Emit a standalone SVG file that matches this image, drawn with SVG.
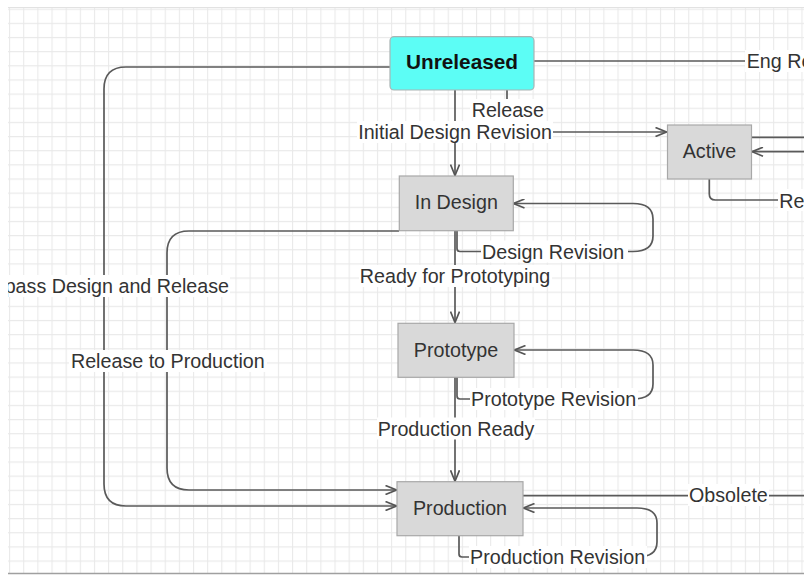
<svg xmlns="http://www.w3.org/2000/svg" width="804" height="576" viewBox="0 0 804 576">
<defs>
<pattern id="grid" patternUnits="userSpaceOnUse" x="9.05" y="8.65" width="14.15" height="14.15">
<path d="M0.5,0 V14.15 M0,0.5 H14.15" fill="none" stroke="#e9e9e9" stroke-width="1.2"/>
</pattern>
<clipPath id="view"><rect x="8" y="7" width="796" height="566"/></clipPath>
<marker id="arr" markerUnits="userSpaceOnUse" viewBox="0 0 12 10" refX="12" refY="5" markerWidth="12" markerHeight="10" orient="auto">
<path d="M0.5,0.5 L11.5,5 L0.5,9.5" fill="none" stroke="#555" stroke-width="1.7"/>
</marker>
<style>
.edge{fill:none;stroke:#5a5a5a;stroke-width:1.7}
.lbg{fill:#fff}
.lbl{font-family:"Liberation Sans",Arial,sans-serif;font-size:19.7px;fill:#333}
.node{fill:#d9d9d9;stroke:#a8a8a8;stroke-width:1.2}
.ntx{font-family:"Liberation Sans",Arial,sans-serif;font-size:19.7px;fill:#333;text-anchor:middle}
</style>
</defs>
<rect x="0" y="0" width="804" height="576" fill="#fff"/>
<g clip-path="url(#view)">
<rect x="8" y="7" width="796" height="566" fill="url(#grid)"/>
<line x1="8" y1="7.5" x2="804" y2="7.5" stroke="#e2e2e2" stroke-width="1"/>
<g id="connectors">
<path class="edge" d="M455,90 V176" marker-end="url(#arr)"/>
<path class="edge" d="M507,90 V132 H667" marker-end="url(#arr)"/>
<path class="edge" d="M534,61 H804"/>
<path class="edge" d="M390,67 H126 Q104,67 104,89 V484 Q104,506 126,506 H397" marker-end="url(#arr)"/>
<path class="edge" d="M399,231 H189 Q167,231 167,253 V468 Q167,490 189,490 H397" marker-end="url(#arr)"/>
<path class="edge" d="M455,231 V323" marker-end="url(#arr)"/>
<path class="edge" d="M457,231 V248.5 Q457,251.5 460,251.5 H633 Q653,251.5 653,236 V219 Q653,203.5 633,203.5 H513" marker-end="url(#arr)"/>
<path class="edge" d="M455,377 V481.7" marker-end="url(#arr)"/>
<path class="edge" d="M457,377 V396 Q457,399 460,399 H633 Q653,399 653,384 V365 Q653,350 633,350 H514" marker-end="url(#arr)"/>
<path class="edge" d="M459,536 V554 Q459,557 462,557 H637 Q657,557 657,542 V523 Q657,508 637,508 H523" marker-end="url(#arr)"/>
<path class="edge" d="M523,495.7 H804"/>
<path class="edge" d="M751.5,137.3 H804"/>
<path class="edge" d="M804,151.7 H751.5" marker-end="url(#arr)"/>
<path class="edge" d="M709.3,179 V194 Q709.3,200 715.3,200 H804"/>
<g id="edge-labels">
<rect class="lbg" x="470" y="99" width="76" height="22"/>
<text class="lbl" x="507.8" y="117" text-anchor="middle">Release</text>
<rect class="lbg" x="357" y="121" width="196" height="22"/>
<text class="lbl" x="455" y="139.3" text-anchor="middle">Initial Design Revision</text>
<rect class="lbg" x="745" y="50" width="59" height="22"/>
<text class="lbl" x="746.7" y="68.3">Eng Re</text>
<rect class="lbg" x="778" y="189" width="26" height="22"/>
<text class="lbl" x="779.3" y="207.5">Re</text>
<rect class="lbg" x="481" y="240.5" width="147" height="22"/>
<text class="lbl" x="482" y="259">Design Revision</text>
<rect class="lbg" x="359" y="265" width="193" height="22"/>
<text class="lbl" x="455" y="283.3" text-anchor="middle">Ready for Prototyping</text>
<rect class="lbg" x="8" y="275" width="222" height="22"/>
<text class="lbl" x="229" y="293.3" text-anchor="end">pass Design and Release</text>
<rect class="lbg" x="69" y="350" width="198" height="22"/>
<text class="lbl" x="167.8" y="368.3" text-anchor="middle">Release to Production</text>
<rect class="lbg" x="470" y="388" width="168" height="22"/>
<text class="lbl" x="471" y="406">Prototype Revision</text>
<rect class="lbg" x="377" y="417.5" width="158" height="22"/>
<text class="lbl" x="456" y="435.7" text-anchor="middle">Production Ready</text>
<rect class="lbg" x="688" y="484" width="81" height="22"/>
<text class="lbl" x="689" y="501.7">Obsolete</text>
<rect class="lbg" x="469" y="546" width="178" height="22"/>
<text class="lbl" x="470" y="564.3">Production Revision</text>
</g>
</g>
<g id="node-unreleased">
<rect x="390" y="36.7" width="144" height="53.3" rx="4" fill="#5cfdf5" stroke="#a9b4b4" stroke-width="1.2"/>
<text x="462" y="69.3" text-anchor="middle" style="font-family:'Liberation Sans',Arial,sans-serif;font-size:20.8px;font-weight:bold;fill:#111">Unreleased</text>
</g>
<g id="node-active">
<rect class="node" x="667.5" y="125" width="84" height="54"/>
<text class="ntx" x="709.5" y="158.3">Active</text>
</g>
<g id="node-in-design">
<rect class="node" x="399.3" y="176" width="114" height="54.7"/>
<text class="ntx" x="456.3" y="209.3">In Design</text>
</g>
<g id="node-prototype">
<rect class="node" x="398" y="323.3" width="116" height="54"/>
<text class="ntx" x="456" y="356.7">Prototype</text>
</g>
<g id="node-production">
<rect class="node" x="397" y="481.7" width="126" height="54"/>
<text class="ntx" x="460" y="515">Production</text>
</g>
</g>
<line x1="8" y1="573.5" x2="804" y2="573.5" stroke="#a0a0a0" stroke-width="1.5"/>
</svg>
